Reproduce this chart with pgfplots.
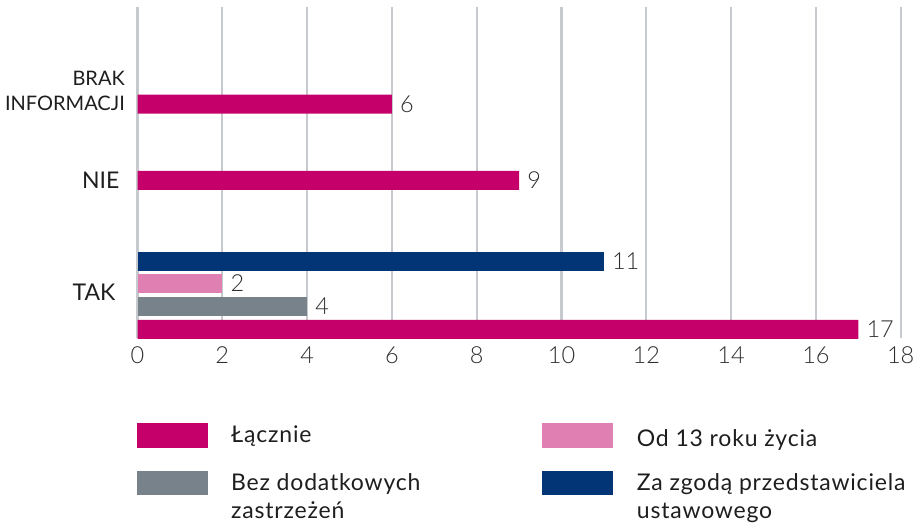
\documentclass[border=0pt]{standalone}
\usepackage{pgfplots}
\pgfplotsset{compat=1.18}
\usepackage{fontspec}
\setmainfont{Lato}
\newfontfamily\lightfam{Lato Light}
\newfontfamily\legfam{Lato}[LetterSpace=3.5]
\definecolor{lacz}{HTML}{C5006A}
\definecolor{rozowy}{HTML}{E07FB2}
\definecolor{szary}{HTML}{78828A}
\definecolor{granat}{HTML}{023575}
\definecolor{siatka}{HTML}{C6CACE}
\definecolor{tekst}{HTML}{1E1E1E}
\definecolor{liczby}{HTML}{2E2E2E}
\newcommand{\bigfnt}{\fontsize{23bp}{28bp}\selectfont}
\newcommand{\legfnt}{\legfam\fontsize{23bp}{28bp}\selectfont}
\newcommand{\numfnt}{\lightfam\fontsize{23.5bp}{28bp}\selectfont}
\begin{document}
\begin{tikzpicture}[x=1bp,y=1bp]
\useasboundingbox (0,0) rectangle (922,525);
\begin{axis}[
  at={(137.5bp,187bp)}, anchor=south west,
  scale only axis, width=763.2bp, height=330.5bp,
  xmin=0, xmax=18, ymin=187, ymax=517.5,
  xtick={0,2,...,18},
  ytick={232.5,344.3}, yticklabels={TAK\hspace*{4bp},NIE},
  extra y ticks={434}, extra y tick labels={BRAK\\INFORMACJI},
  extra y tick style={yticklabel style={font=\fontsize{20bp}{24.7bp}\selectfont, align=right, xshift=5.5bp}},
  /pgf/number format/assume math mode=true,
  axis line style={draw=none},
  major tick length=0pt,
  xmajorgrids, grid style={siatka, line width=2.3bp},
  xticklabel style={anchor=center, yshift=-17bp, font=\numfnt, text=liczby, inner sep=0pt},
  yticklabel style={anchor=east, font=\bigfnt, text=tekst, inner sep=0pt, xshift=-18bp},
  xbar, bar width=19bp, bar shift=0pt,
  nodes near coords,
  nodes near coords style={anchor=west, inner sep=0pt, xshift=8bp, font=\numfnt, text=liczby},
  clip=false,
]
\addplot[fill=lacz, draw=none] coordinates {(17,195.7) (9,344.5) (6,420.8)};
\addplot[fill=szary, draw=none] coordinates {(4,218.7)};
\addplot[fill=rozowy, draw=none] coordinates {(2,241.7)};
\addplot[fill=granat, draw=none] coordinates {(11,263.8)};
\end{axis}
% legend
\fill[lacz] (137,77.3) rectangle (207.7,102.3);
\node[anchor=base west, inner sep=0, font=\legfnt, text=tekst] at (231,82.3) {Łącznie};
\fill[szary] (137,29.7) rectangle (207.7,54);
\node[anchor=base west, inner sep=0, font=\legfnt, text=tekst] at (231,34.3) {Bez dodatkowych};
\node[anchor=base west, inner sep=0, font=\legfnt, text=tekst] at (231,6.7) {zastrzeżeń};
\fill[rozowy] (542,77.3) rectangle (612.7,102.3);
\node[anchor=base west, inner sep=0, font=\legfnt, text=tekst] at (636.7,78.5) {Od 13 roku życia};
\fill[granat] (542,29.7) rectangle (612.7,54);
\node[anchor=base west, inner sep=0, font=\legfnt, text=tekst] at (636.7,34.3) {Za zgodą przedstawiciela};
\node[anchor=base west, inner sep=0, font=\legfnt, text=tekst] at (636.7,6.7) {ustawowego};
\end{tikzpicture}
\end{document}
